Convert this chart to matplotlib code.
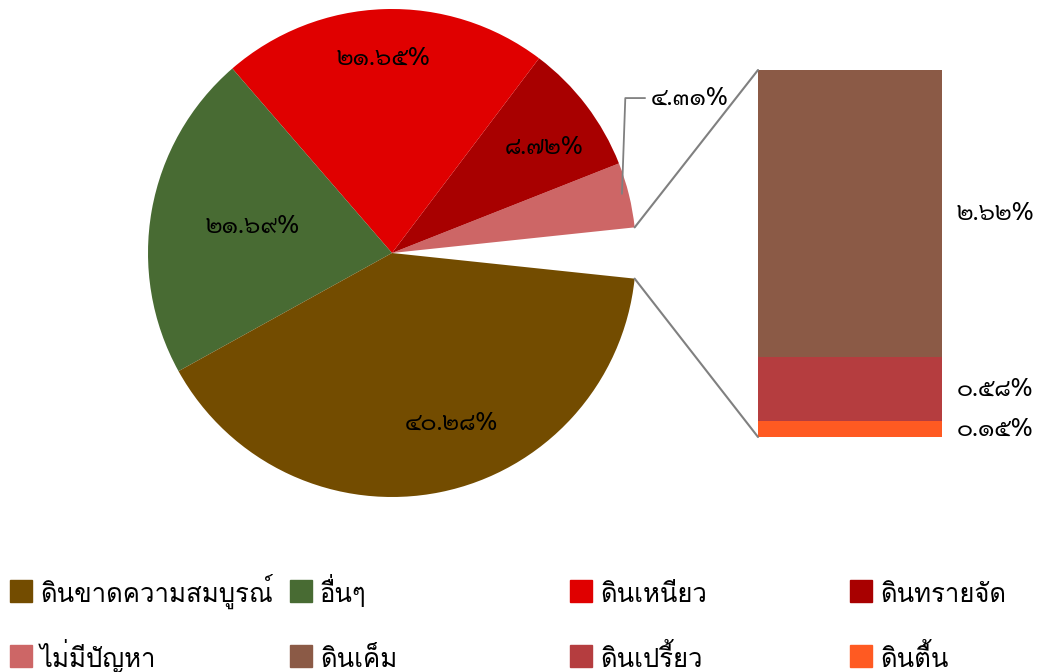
import matplotlib
matplotlib.use("Agg")
import numpy as np
import matplotlib.pyplot as plt
from matplotlib.patches import ConnectionPatch, Rectangle

# soil problem shares (percent)
pie_labels = ["อื่นๆ รวม", "ไม่มีปัญหา", "ดินทรายจัด", "ดินเหนียว", "อื่นๆ", "ดินขาดความสมบูรณ์"]
pie_values = [3.35, 4.31, 8.72, 21.65, 21.69, 40.28]
pie_colors = ["none", "#CD6666", "#A80000", "#E00000", "#486B33", "#734C00"]

bar_labels = ["ดินตื้น", "ดินเปรี้ยว", "ดินเค็ม"]
bar_values = [0.15, 0.58, 2.62]
bar_colors = ["#FF5A22", "#B53D3F", "#8B5A46"]

legend_order = ["ดินขาดความสมบูรณ์", "อื่นๆ", "ดินเหนียว", "ดินทรายจัด",
                "ไม่มีปัญหา", "ดินเค็ม", "ดินเปรี้ยว", "ดินตื้น"]

plt.rcParams['font.family'] = ['Loma', 'Noto Sans Thai Looped', 'DejaVu Sans']
num_font = ['Sarabun', 'Loma', 'DejaVu Sans']
num_size = 17.5

thai_digits = str.maketrans("0123456789", "๐๑๒๓๔๕๖๗๘๙")
def thai_pct(v):
    return f"{v:.2f}%".translate(thai_digits)

W, H = 1043, 672
fig = plt.figure(figsize=(W / 100, H / 100), dpi=100)

def px_axes(x0, y0, x1, y1):
    return fig.add_axes([x0 / W, 1 - y1 / H, (x1 - x0) / W, (y1 - y0) / H])

ax = px_axes(148, 9, 636, 497)
gap = pie_values[0] / 100 * 360
wedges, _ = ax.pie(pie_values, colors=pie_colors, startangle=-gap / 2,
                   wedgeprops=dict(linewidth=0))
wedges[0].set_visible(False)
ax.set_xlim(-1, 1)
ax.set_ylim(-1, 1)
ax.set_aspect("equal")
ax.axis("off")

# label spots inside the big wedges (radius, angle in degrees)
label_pos = {2: (0.76, 34.7), 3: (0.80, 92.6), 4: (0.58, 169.4), 5: (0.74, -70.7)}
for i, (r, a) in label_pos.items():
    t = np.deg2rad(a)
    ax.text(r * np.cos(t), r * np.sin(t), thai_pct(pie_values[i]),
            ha="center", va="center", fontsize=num_size, family=num_font)

# small wedge gets a leader line
w = wedges[1]
mid = np.deg2rad((w.theta1 + w.theta2) / 2)
ax.annotate(thai_pct(pie_values[1]), xy=(0.97 * np.cos(mid), 0.97 * np.sin(mid)),
            xytext=(1.06, 0.635), fontsize=num_size, family=num_font,
            ha="left", va="center",
            arrowprops=dict(arrowstyle="-", color="#808080", lw=1.3,
                            connectionstyle="angle,angleA=0,angleB=88,rad=0"))

# stacked bar breaking down the small leftover wedge
bax = px_axes(758, 70, 942, 437)
bottom = 0
for v, c in zip(bar_values, bar_colors):
    bax.bar(0, v, width=1, bottom=bottom, color=c)
    bax.text(1.08, bottom + v / 2, thai_pct(v), transform=bax.get_yaxis_transform(),
             ha="left", va="center", fontsize=num_size, family=num_font)
    bottom += v
bax.set_xlim(-0.5, 0.5)
bax.set_ylim(0, sum(bar_values))
bax.axis("off")

t1, t2 = np.deg2rad(wedges[0].theta1), np.deg2rad(wedges[0].theta2)
for th, yb in [(t2, sum(bar_values)), (t1, 0)]:
    con = ConnectionPatch(xyA=(np.cos(th), np.sin(th)), coordsA=ax.transData,
                          xyB=(-0.5, yb), coordsB=bax.transData,
                          color="#808080", lw=1.5)
    fig.add_artist(con)

# legend: 4 columns x 2 rows on a fixed grid
color_of = dict(zip(pie_labels + bar_labels, pie_colors + bar_colors))
col_x = [10, 290, 570, 850]
row_y = [602, 667]   # bottom of the swatch / text baseline
for k, name in enumerate(legend_order):
    x, y = col_x[k % 4], row_y[k // 4]
    fig.add_artist(Rectangle((x / W, 1 - y / H), 22 / W, 22 / H,
                             transform=fig.transFigure, color=color_of[name]))
    fig.text((x + 30) / W, 1 - y / H, name, fontsize=18.5, ha="left", va="baseline")

fig.savefig("out.png", dpi=100)
